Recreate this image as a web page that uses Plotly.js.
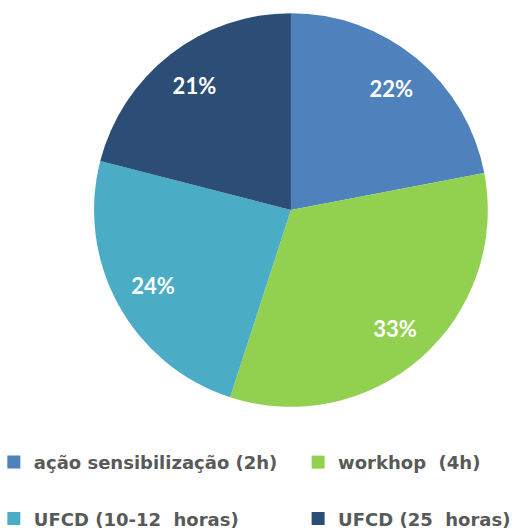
<!DOCTYPE html>
<html>
<head>
<meta charset="utf-8">
<script src="https://cdn.plot.ly/plotly-3.0.1.min.js"></script>
<style>html,body{margin:0;padding:0;background:#fff;}#chart{width:514px;height:531px;}</style>
</head>
<body>
<div id="chart"></div>
<script>
const categories = ["ação sensibilização (2h)", "workhop  (4h)", "UFCD (10-12  horas)", "UFCD (25  horas)"];
const values = [22, 33, 24, 21];
const colors = ["#4F81BD", "#92D050", "#4BACC6", "#2C4D75"];
// legend layout: which legend box each category goes into (two columns)
const legendColumn = ["legend", "legend2", "legend", "legend2"];

const pieDomain = { x: [0.183, 0.949], y: [0.2335, 0.9755] };

const slices = {
  type: "pie",
  labels: categories,
  values: values,
  sort: false,
  direction: "clockwise",
  rotation: 0,
  marker: { colors: colors, line: { width: 0 } },
  textinfo: "none",
  hoverinfo: "none",
  showlegend: false,
  domain: pieDomain
};

const labelsRing = {
  type: "pie",
  labels: categories,
  values: values,
  sort: false,
  direction: "clockwise",
  rotation: 0,
  hole: 0.6,
  showlegend: false,
  marker: { colors: colors.map(() => "rgba(0,0,0,0)"), line: { width: 0 } },
  texttemplate: "%{percent:.0%}",
  textposition: "inside",
  insidetextorientation: "horizontal",
  textfont: { family: "Lato, sans-serif", size: 22, color: "#ffffff", weight: "bold" },
  hoverinfo: "none",
  domain: pieDomain
};

const legendEntries = categories.map((c, i) => ({
  type: "scatter",
  mode: "markers",
  x: [null],
  y: [null],
  name: c,
  legend: legendColumn[i],
  legendgroup: "g" + i,
  showlegend: true,
  marker: { symbol: "square", size: 13, color: colors[i], line: { width: 0 } },
  hoverinfo: "none"
}));

const legendFont = { family: "DejaVu Sans, sans-serif", size: 18, color: "#595959", weight: "bold" };

const layout = {
  width: 514,
  height: 531,
  margin: { l: 0, r: 0, t: 0, b: 0, autoexpand: false },
  paper_bgcolor: "#ffffff",
  plot_bgcolor: "#ffffff",
  xaxis: { visible: false },
  yaxis: { visible: false },
  showlegend: true,
  legend: {
    orientation: "v",
    x: -0.012,
    xanchor: "left",
    y: 0.164,
    yanchor: "top",
    traceorder: "grouped",
    tracegroupgap: 30,
    font: legendFont,
    itemclick: false
  },
  legend2: {
    orientation: "v",
    x: 0.58,
    xanchor: "left",
    y: 0.164,
    yanchor: "top",
    traceorder: "grouped",
    tracegroupgap: 30,
    font: legendFont,
    itemclick: false
  }
};

Plotly.newPlot("chart", [slices, labelsRing, ...legendEntries], layout, { staticPlot: true });
</script>
</body>
</html>
